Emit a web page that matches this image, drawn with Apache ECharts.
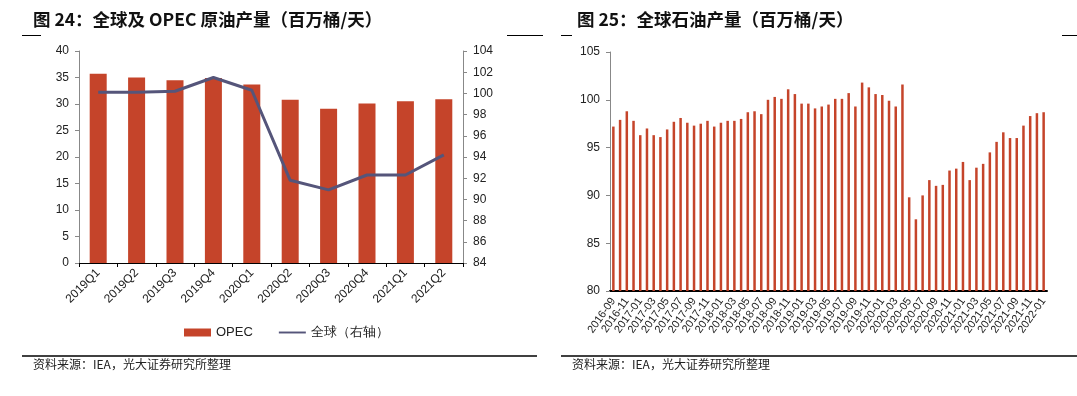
<!DOCTYPE html>
<html>
<head>
<meta charset="utf-8">
<style>
  html, body { margin: 0; padding: 0; background: #fff; }
  #main { width: 1077px; height: 396px; }
</style>
<script src="https://cdn.jsdelivr.net/npm/echarts@6/dist/echarts.min.js"></script>
</head>
<body>
<div id="main"></div>
<script>
// 图24 季度数据
var quarters = ['2019Q1', '2019Q2', '2019Q3', '2019Q4', '2020Q1', '2020Q2', '2020Q3', '2020Q4', '2021Q1', '2021Q2'];
var opecValues = [35.7, 35.0, 34.5, 34.9, 33.7, 30.8, 29.1, 30.1, 30.5, 30.9];
var globalValues = [100.1, 100.1, 100.2, 101.5, 100.3, 91.8, 90.9, 92.3, 92.3, 94.2];

// 图25 月度数据 2016-09 ~ 2022-01
var months = [];
for (var y = 2016; y <= 2022; y++) {
    for (var m = 1; m <= 12; m++) {
        if ((y === 2016 && m < 9) || (y === 2022 && m > 1)) continue;
        months.push(y + '-' + (m < 10 ? '0' + m : m));
    }
}
var monthlyValues = [
    97.2, 97.9, 98.8, 97.8, 96.3, 97.0, 96.3, 96.1, 96.9, 97.7,
    98.1, 97.6, 97.3, 97.5, 97.8, 97.2, 97.6, 97.8, 97.8, 98.0,
    98.7, 98.8, 98.5, 100.0, 100.3, 100.1, 101.1, 100.6, 99.6, 99.6,
    99.1, 99.3, 99.5, 100.1, 100.1, 100.7, 99.3, 101.8, 101.3, 100.6,
    100.5, 99.9, 99.3, 101.6, 89.8, 87.5, 90.0, 91.6, 91.0, 91.1,
    92.6, 92.8, 93.5, 91.6, 92.9, 93.3, 94.5, 95.6, 96.6, 96.0,
    96.0, 97.3, 98.3, 98.6, 98.7
];

var barColor = '#C5442A';
var lineColor = '#55557A';
var textColor = '#222';
var labelFont = '"Liberation Sans", Arial, sans-serif';
var cjkFont = '"Noto Sans CJK SC", sans-serif';

var chart = echarts.init(document.getElementById('main'));

var option = {
    animation: false,
    textStyle: { fontFamily: labelFont, color: textColor },
    title: [
        {
            text: '图 24：全球及 OPEC 原油产量（百万桶/天）',
            left: 28, top: 6,
            textStyle: { fontFamily: cjkFont, fontSize: 17.5, fontWeight: 'bold', color: '#111' }
        },
        {
            text: '图 25：全球石油产量（百万桶/天）',
            left: 572, top: 6,
            textStyle: { fontFamily: cjkFont, fontSize: 17.5, fontWeight: 'bold', color: '#111' }
        }
    ],
    legend: {
        left: 179, top: 321,
        itemWidth: 27, itemHeight: 8, itemGap: 26,
        textStyle: { fontFamily: labelFont, fontSize: 13, color: '#222' },
        data: [
            { name: 'OPEC', icon: 'rect' },
            { name: '全球（右轴）', icon: 'path://M0,0 L28,0 L28,2 L0,2 Z', itemStyle: { color: lineColor } }
        ]
    },
    grid: [
        { left: 79, right: 614, top: 51, bottom: 133 },
        { left: 610, right: 30, top: 52, bottom: 105 }
    ],
    xAxis: [
        {
            type: 'category', gridIndex: 0, data: quarters,
            axisLine: { lineStyle: { color: '#000' } },
            axisTick: { show: true, length: 4, lineStyle: { color: '#000' } },
            axisLabel: { rotate: 45, fontSize: 12, fontFamily: labelFont, color: textColor, margin: 8 }
        },
        {
            type: 'category', gridIndex: 1, data: months,
            axisLine: { lineStyle: { color: '#000', width: 2 } },
            axisTick: { show: false },
            axisLabel: {
                rotate: 55, interval: 0, fontSize: 11, fontFamily: labelFont, color: textColor, margin: 8,
                // 每隔一个月显示一个标签
                formatter: function (v, i) { return i % 2 === 0 ? v : ''; }
            }
        }
    ],
    yAxis: [
        {
            type: 'value', gridIndex: 0, min: 0, max: 40, interval: 5,
            axisLine: { show: true, lineStyle: { color: '#888' } },
            axisTick: { show: true, length: 4, lineStyle: { color: '#888' } },
            splitLine: { show: false },
            axisLabel: { fontSize: 12, fontFamily: labelFont, color: textColor, margin: 10 }
        },
        {
            type: 'value', gridIndex: 0, min: 84, max: 104, interval: 2, position: 'right',
            axisLine: { show: true, lineStyle: { color: '#888' } },
            axisTick: { show: true, length: 4, lineStyle: { color: '#888' } },
            splitLine: { show: false },
            axisLabel: { fontSize: 12, fontFamily: labelFont, color: textColor, margin: 10 }
        },
        {
            type: 'value', gridIndex: 1, min: 80, max: 105, interval: 5,
            axisLine: { show: true, lineStyle: { color: '#888' } },
            axisTick: { show: true, length: 4, lineStyle: { color: '#888' } },
            splitLine: { show: false },
            axisLabel: { fontSize: 12, fontFamily: labelFont, color: textColor, margin: 10 }
        }
    ],
    series: [
        {
            name: 'OPEC', type: 'bar', xAxisIndex: 0, yAxisIndex: 0,
            data: opecValues, barWidth: 17,
            itemStyle: { color: barColor }
        },
        {
            name: '全球（右轴）', type: 'line', xAxisIndex: 0, yAxisIndex: 1,
            data: globalValues, symbol: 'none',
            lineStyle: { color: lineColor, width: 3 },
            itemStyle: { color: lineColor }
        },
        {
            name: '全球石油产量', type: 'bar', xAxisIndex: 1, yAxisIndex: 2,
            data: monthlyValues, barWidth: 2.5,
            itemStyle: { color: barColor }
        }
    ],
    graphic: [
        // 标题下的装饰线
        { type: 'line', shape: { x1: 22, y1: 35.5, x2: 41, y2: 35.5 }, style: { stroke: '#000', lineWidth: 1 } },
        { type: 'line', shape: { x1: 507, y1: 35.5, x2: 543, y2: 35.5 }, style: { stroke: '#000', lineWidth: 1 } },
        { type: 'line', shape: { x1: 561, y1: 35.5, x2: 572, y2: 35.5 }, style: { stroke: '#000', lineWidth: 1 } },
        { type: 'line', shape: { x1: 1062, y1: 35.5, x2: 1077, y2: 35.5 }, style: { stroke: '#000', lineWidth: 1 } },
        // 底部线与资料来源
        { type: 'line', shape: { x1: 22, y1: 356, x2: 537, y2: 356 }, style: { stroke: '#000', lineWidth: 1.5 } },
        { type: 'line', shape: { x1: 561, y1: 356, x2: 1077, y2: 356 }, style: { stroke: '#000', lineWidth: 1.5 } },
        {
            type: 'text', left: 33, top: 358,
            style: { text: '资料来源：IEA，光大证券研究所整理', font: '12px "Noto Sans CJK SC", sans-serif', fill: '#222' }
        },
        {
            type: 'text', left: 572, top: 358,
            style: { text: '资料来源：IEA，光大证券研究所整理', font: '12px "Noto Sans CJK SC", sans-serif', fill: '#222' }
        }
    ]
};

chart.setOption(option);
</script>
</body>
</html>
